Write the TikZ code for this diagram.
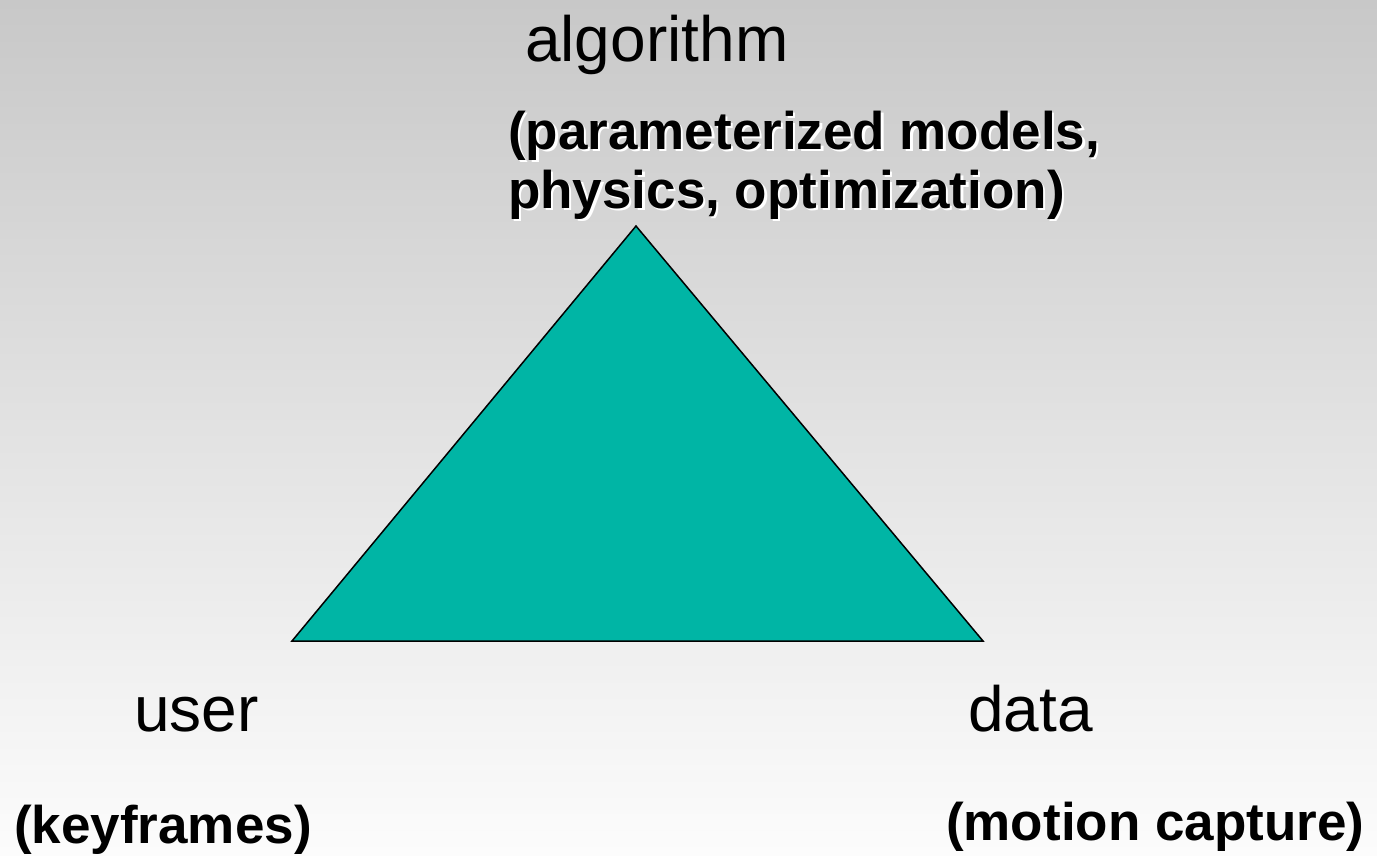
\documentclass[tikz,border=0pt]{standalone}
\usepackage{fontspec}
\setmainfont{Liberation Sans}
\definecolor{bgtop}{RGB}{200,200,200}
\definecolor{bgbot}{RGB}{252,252,252}
\definecolor{teal}{RGB}{0,181,165}
\newcommand{\shadtxt}[1]{\makebox[0pt][l]{\hspace{2.2pt}\raisebox{-2.2pt}{\color{white}#1}}#1}
\begin{document}
\begin{tikzpicture}[x=1pt,y=-1pt,
  lbl/.style={inner sep=0pt,anchor=base west,font=\fontsize{64}{70}\selectfont},
  sub/.style={inner sep=0pt,anchor=base west,font=\fontsize{53}{58}\bfseries\selectfont}]
\useasboundingbox (0,0) rectangle (1377,855);
\shade[top color=bgtop,bottom color=bgbot] (0,0) rectangle (1377,855);
\coordinate (apex) at (636,226);
\coordinate (bl) at (292,641);
\coordinate (br) at (983,641);
\filldraw[fill=teal,draw=black,line width=1.5pt,line join=miter] (apex) -- (bl) -- (br) -- cycle;
\node[lbl] (alg) at (525,61) {algorithm};
\node[sub] (par1) at (508,149) {\shadtxt{(parameterized models,}};
\node[sub] (par2) at (508,208) {\shadtxt{physics, optimization)}};
\node[lbl] (user) at (134,731) {user};
\node[lbl] (data) at (968,731) {data};
\node[sub] (key) at (14,843) {(keyframes)};
\node[sub] (mot) at (946,840) {(motion capture)};
\end{tikzpicture}
\end{document}
